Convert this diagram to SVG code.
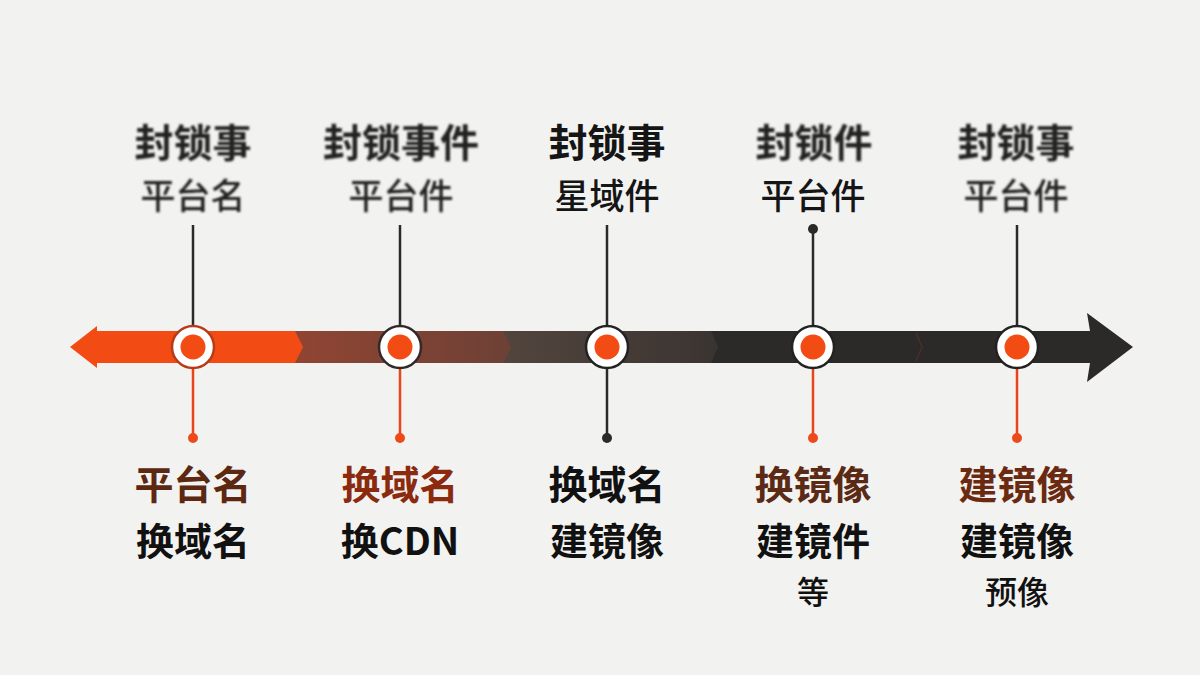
<svg xmlns="http://www.w3.org/2000/svg" width="1200" height="675" viewBox="0 0 1200 675">
  <defs>
    <style>
      .t1 { font-family: "Noto Sans CJK SC", "Noto Sans", sans-serif; font-size: 39px; font-weight: 700; text-anchor: middle; fill: #151515; }
      .t2 { font-family: "Noto Sans CJK SC", "Noto Sans", sans-serif; font-size: 35px; font-weight: 500; text-anchor: middle; fill: #151515; }
      .b1 { font-family: "Noto Sans CJK SC", "Noto Sans", sans-serif; font-size: 39px; font-weight: 700; text-anchor: middle; }
      .b2 { font-family: "Noto Sans CJK SC", "Noto Sans", sans-serif; font-size: 38px; font-weight: 700; text-anchor: middle; fill: #111; }
      .b3 { font-family: "Noto Sans CJK SC", "Noto Sans", sans-serif; font-size: 32px; font-weight: 500; text-anchor: middle; fill: #111; }
      .blur { filter: url(#soft); fill: #242424; }
      .ring { fill: #ffffff; stroke-width: 2.5; }
      .dot { fill: #f24c14; }
      .lead-d { stroke: #2a2a2a; stroke-width: 2.5; fill: none; }
      .lead-o { stroke: #e8461a; stroke-width: 2.5; fill: none; }
      .end-d { fill: #2a2a2a; }
      .end-o { fill: #ec4a1a; }
    </style>
    <filter id="soft" x="-10%" y="-20%" width="120%" height="140%">
      <feGaussianBlur stdDeviation="1.1"/>
    </filter>
    <linearGradient id="gBrown" x1="0" y1="0" x2="1" y2="0">
      <stop offset="0" stop-color="#924532"/>
      <stop offset="1" stop-color="#6d4136"/>
    </linearGradient>
    <linearGradient id="gGrey" x1="0" y1="0" x2="1" y2="0">
      <stop offset="0" stop-color="#52453e"/>
      <stop offset="1" stop-color="#3a3431"/>
    </linearGradient>
  </defs>

  <rect x="0" y="0" width="1200" height="675" fill="#f2f2f0"/>

  <g id="timeline">
    <polygon points="705,331 1090,331 1087,313 1133,347 1087,382 1090,363 705,363" fill="#2c2a29"/>
    <polyline points="916,333 922,347 916,361" fill="none" stroke="#4a2e28" stroke-width="1.5"/>
    <polygon points="500,331 711,331 718,347 711,363 500,363" fill="url(#gGrey)"/>
    <polygon points="285,331 503,331 511,347 503,363 285,363" fill="url(#gBrown)"/>
    <polygon points="70,347 97,326 97,331 295,331 303,347 295,363 97,363 97,368" fill="#f24c14"/>
  </g>

  <g id="connectors">
    <line class="lead-d" x1="193" y1="225" x2="193" y2="326"/>
    <line class="lead-o" x1="193" y1="369" x2="193" y2="438"/>
    <circle class="end-o" cx="193" cy="438" r="5"/>

    <line class="lead-d" x1="400" y1="225" x2="400" y2="326"/>
    <line class="lead-o" x1="400" y1="369" x2="400" y2="438"/>
    <circle class="end-o" cx="400" cy="438" r="5"/>

    <line class="lead-d" x1="607" y1="225" x2="607" y2="326"/>
    <line class="lead-d" x1="607" y1="369" x2="607" y2="438"/>
    <circle class="end-d" cx="607" cy="438" r="5"/>

    <circle class="end-d" cx="813" cy="229" r="5"/>
    <line class="lead-d" x1="813" y1="229" x2="813" y2="326"/>
    <line class="lead-o" x1="813" y1="369" x2="813" y2="438"/>
    <circle class="end-o" cx="813" cy="438" r="5"/>

    <line class="lead-d" x1="1017" y1="225" x2="1017" y2="326"/>
    <line class="lead-o" x1="1017" y1="369" x2="1017" y2="438"/>
    <circle class="end-o" cx="1017" cy="438" r="5"/>
  </g>

  <g id="node1">
    <circle class="ring" cx="193" cy="347" r="21" stroke="#b83a16"/>
    <circle class="dot" cx="193" cy="347" r="12.5"/>
    <text class="t1 blur" x="193" y="157">封锁事</text>
    <text class="t2 blur" x="193" y="209">平台名</text>
    <text class="b1" x="193" y="499" fill="#5c2812">平台名</text>
    <text class="b2" x="193" y="555">换域名</text>
  </g>

  <g id="node2">
    <circle class="ring" cx="400" cy="347" r="21" stroke="#33292a"/>
    <circle class="dot" cx="400" cy="347" r="12.5"/>
    <text class="t1 blur" x="401" y="157">封锁事件</text>
    <text class="t2 blur" x="401" y="209">平台件</text>
    <text class="b1" x="400" y="499" fill="#8b2a0e">换域名</text>
    <text class="b2" x="400" y="555">换CDN</text>
  </g>

  <g id="node3">
    <circle class="ring" cx="607" cy="347" r="21" stroke="#222"/>
    <circle class="dot" cx="607" cy="347" r="12.5"/>
    <text class="t1" x="607" y="157">封锁事</text>
    <text class="t2" x="607" y="209">星域件</text>
    <text class="b1" x="607" y="499" fill="#111">换域名</text>
    <text class="b2" x="607" y="555">建镜像</text>
  </g>

  <g id="node4">
    <circle class="ring" cx="813" cy="347" r="21" stroke="#222"/>
    <circle class="dot" cx="813" cy="347" r="12.5"/>
    <text class="t1 blur" x="814" y="157">封锁件</text>
    <text class="t2" x="813" y="209">平台件</text>
    <text class="b1" x="813" y="499" fill="#5a2a15">换镜像</text>
    <text class="b2" x="813" y="555">建镜件</text>
    <text class="b3" x="813" y="604">等</text>
  </g>

  <g id="node5">
    <circle class="ring" cx="1017" cy="347" r="21" stroke="#222"/>
    <circle class="dot" cx="1017" cy="347" r="12.5"/>
    <text class="t1 blur" x="1016" y="157">封锁事</text>
    <text class="t2 blur" x="1016" y="209">平台件</text>
    <text class="b1" x="1017" y="499" fill="#6a2a12">建镜像</text>
    <text class="b2" x="1017" y="555">建镜像</text>
    <text class="b3" x="1017" y="604">预像</text>
  </g>
</svg>
